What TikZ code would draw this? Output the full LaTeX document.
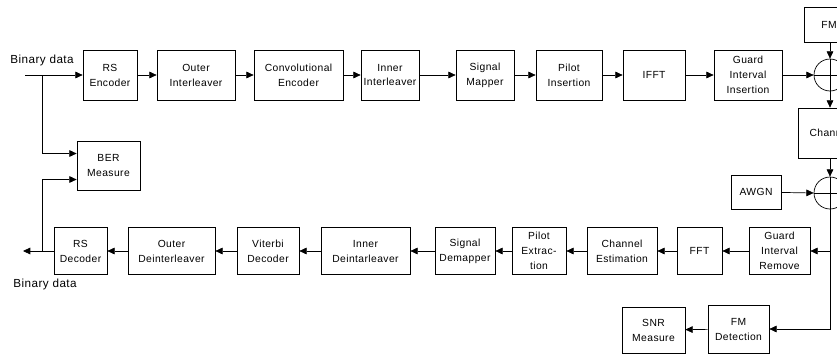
\documentclass[tikz,border=0pt]{standalone}
\usepackage{fontspec}
\setmainfont{Liberation Sans}[LetterSpace=4]
\usepackage{tikz}
\usetikzlibrary{arrows.meta, calc, positioning}

\tikzset{
    blk/.style={draw, semithick, align=center, inner sep=1pt, font=\fontsize{8.8}{12.8}\selectfont},
    adder/.style={draw, semithick, circle, minimum size=0.96cm, inner sep=0pt},
    sig/.style={semithick, -{Triangle[length=2.2mm, width=2mm]}},
    lbl/.style={font=\fontsize{10}{12}\selectfont},
}

\begin{document}
\begin{tikzpicture}[x=0.03cm, y=-0.03cm]
    \useasboundingbox (0,0) rectangle (837,358);
    \clip (0,0) rectangle (837,358);

    % Transmitter
    \node[blk, minimum width=1.62cm, minimum height=1.5cm] (rsenc) at (110,75) {RS\\Encoder};
    \node[blk, minimum width=2.34cm, minimum height=1.5cm] (outint) at (196,75) {Outer\\Interleaver};
    \node[blk, minimum width=2.67cm, minimum height=1.5cm] (conv) at (298.5,75) {Convolutional\\Encoder};
    \node[blk, minimum width=1.74cm, minimum height=1.5cm] (inint) at (390,75) {Inner\\Interleaver};
    \node[blk, minimum width=1.74cm, minimum height=1.5cm] (mapper) at (485,75) {Signal\\Mapper};
    \node[blk, minimum width=1.98cm, minimum height=1.5cm] (pilotins) at (569,75) {Pilot\\Insertion};
    \node[blk, minimum width=1.86cm, minimum height=1.5cm] (ifft) at (654,75) {IFFT};
    \node[blk, minimum width=2.04cm, minimum height=1.5cm] (gi) at (748,75) {Guard\\Interval\\Insertion};

    % Channel
    \node[blk, minimum width=1.5cm, minimum height=1.05cm] (fm) at (829,24.5) {FM};
    \node[adder] (add1) at (830,75) {};
    \node[blk, minimum width=1.92cm, minimum height=1.5cm] (chan) at (830,133) {Channel};
    \node[adder] (add2) at (830,193) {};
    \node[blk, minimum width=1.5cm, minimum height=1.02cm] (awgn) at (756,192) {AWGN};
    \draw[semithick] (add1.north) -- (add1.south) (add1.west) -- (add1.east);
    \draw[semithick] (add2.north) -- (add2.south) (add2.west) -- (add2.east);

    % Receiver
    \node[blk, minimum width=1.83cm, minimum height=1.41cm] (gir) at (779.5,251) {Guard\\Interval\\Remove};
    \node[blk, minimum width=1.35cm, minimum height=1.41cm] (fft) at (699.5,251) {FFT};
    \node[blk, minimum width=2.1cm, minimum height=1.41cm] (chest) at (622,251) {Channel\\Estimation};
    \node[blk, minimum width=1.62cm, minimum height=1.41cm] (pilotext) at (539,251) {Pilot\\Extrac-\\tion};
    \node[blk, minimum width=1.8cm, minimum height=1.41cm] (demap) at (465,251) {Signal\\Demapper};
    \node[blk, minimum width=2.67cm, minimum height=1.41cm] (indeint) at (365.5,251) {Inner\\Deintarleaver};
    \node[blk, minimum width=1.86cm, minimum height=1.41cm] (vit) at (268,251) {Viterbi\\Decoder};
    \node[blk, minimum width=2.61cm, minimum height=1.41cm] (outdeint) at (171.5,251) {Outer\\Deinterleaver};
    \node[blk, minimum width=1.59cm, minimum height=1.41cm] (rsdec) at (80.5,251) {RS\\Decoder};

    % Measurement
    \node[blk, minimum width=1.89cm, minimum height=1.47cm] (ber) at (108.5,165.5) {BER\\Measure};
    \node[blk, minimum width=1.83cm, minimum height=1.44cm] (fmdet) at (738.5,329) {FM\\Detection};
    \node[blk, minimum width=1.89cm, minimum height=1.38cm] (snr) at (653.5,330) {SNR\\Measure};

    % Labels
    \node[lbl] (binin) at (42,60) {Binary data};
    \node[lbl] (binout) at (45,284) {Binary data};

    % Transmitter arrows
    \coordinate (in) at (25,75);
    \coordinate (split) at (42,75);
    \draw[sig] (in) -- (rsenc);
    \draw[sig] (split) |- ($(ber.west)+(0,-12)$);
    \draw[sig] (rsenc) -- (outint);
    \draw[sig] (outint) -- (conv);
    \draw[sig] (conv) -- (inint);
    \draw[sig] (inint) -- (mapper);
    \draw[sig] (mapper) -- (pilotins);
    \draw[sig] (pilotins) -- (ifft);
    \draw[sig] (ifft) -- (gi);
    \draw[sig] (gi) -- (add1.west);

    % Channel arrows
    \draw[sig] (fm.south -| add1) -- (add1.north);
    \draw[sig] (add1.south) -- (chan);
    \draw[sig] (chan) -- (add2.north);
    \draw[sig] (awgn) -- (add2.west);
    \draw[sig] (add2.south) |- (fmdet.east);
    \draw[sig] (add2.south |- gir.east) -- (gir.east);

    % Receiver arrows
    \coordinate (out) at (23,251);
    \coordinate (split2) at (42,251);
    \draw[sig] (gir) -- (fft);
    \draw[sig] (fft) -- (chest);
    \draw[sig] (chest) -- (pilotext);
    \draw[sig] (pilotext) -- (demap);
    \draw[sig] (demap) -- (indeint);
    \draw[sig] (indeint) -- (vit);
    \draw[sig] (vit) -- (outdeint);
    \draw[sig] (outdeint) -- (rsdec);
    \draw[sig] (rsdec) -- (out);
    \draw[sig] (split2) |- ($(ber.west)+(0,14)$);
    \draw[sig] (fmdet) -- (snr);
\end{tikzpicture}
\end{document}
